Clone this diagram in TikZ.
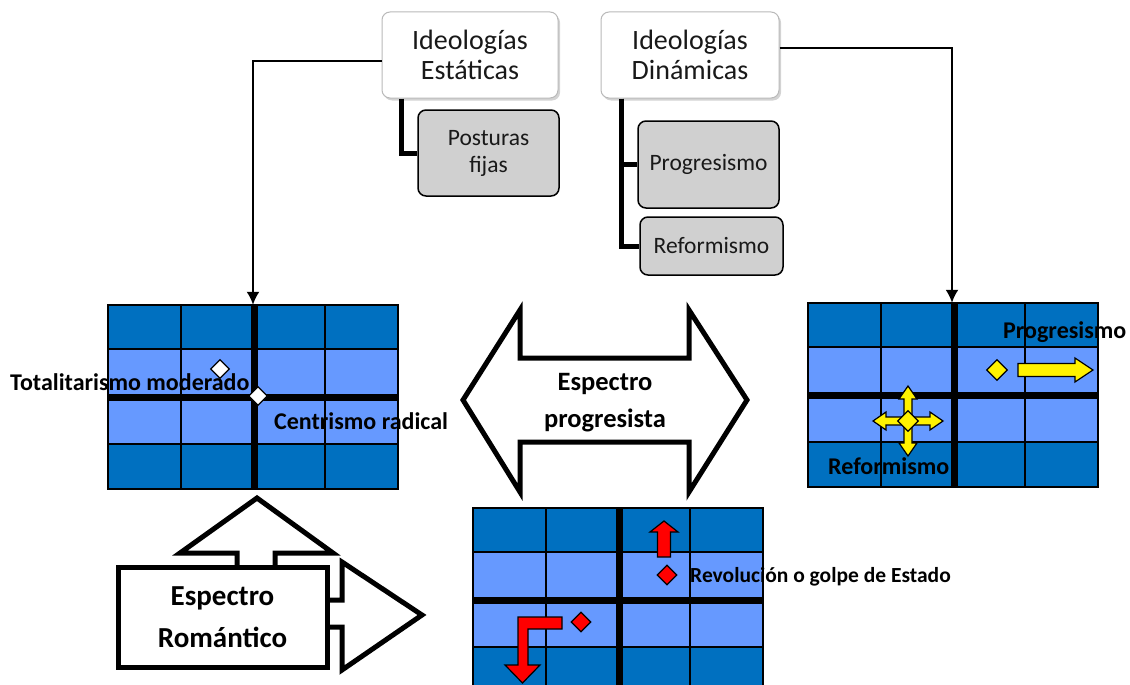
\documentclass[tikz,border=0pt]{standalone}
\usepackage{fontspec}
\setmainfont{Carlito}
\usetikzlibrary{arrows.meta}
\usetikzlibrary{shapes.geometric}
\usetikzlibrary{shadows}
\definecolor{azuloscuro}{HTML}{0070C0}
\definecolor{azulclaro}{HTML}{6699FF}
\definecolor{grisbox}{HTML}{D0D0D0}
\tikzset{>=latex}
\tikzset{ideologia/.style = {shape=rectangle,rounded corners=8pt,draw=gray!55,line width=1pt,fill=white,drop shadow={shadow xshift=2pt,shadow yshift=-2.5pt,opacity=0.35},minimum width=176pt,minimum height=86pt,align=center,text=black!90,font=\fontsize{28}{30}\selectfont}}
\tikzset{postura/.style = {shape=rectangle,rounded corners=8pt,draw,line width=1.5pt,fill=grisbox,minimum width=141pt,align=center,text=black!90,font=\fontsize{23.5}{27}\selectfont}}
\tikzset{rama/.style = {line width=5pt}}
\tikzset{edge/.style = {-{Latex[length=13pt,width=13pt]},line width=2pt}}
\tikzset{rejilla/.style = {shape=rectangle,minimum width=290pt,minimum height=184pt,inner sep=0pt}}
\tikzset{rombo/.style = {shape=diamond,draw,line width=1.2pt,minimum size=19pt,inner sep=0pt}}
\tikzset{etiqueta/.style = {anchor=west,inner sep=0pt,font=\bfseries\fontsize{24}{28}\selectfont}}
\tikzset{bloque/.style = {draw,line width=5pt,fill=white}}
\tikzset{titulo/.style = {align=center,font=\bfseries\fontsize{26}{40}\selectfont}}
\tikzset{amarilla/.style = {draw,line width=1.2pt,fill=yellow}}
\tikzset{roja/.style = {draw,line width=1.2pt,fill=red}}

\begin{document}
\begin{tikzpicture}[x=1pt,y=-1pt]
            \clip (0,0) rectangle (1130,685);

            % Grids
            \foreach \gx/\gy/\gn in {108/305/gridL,808/303/gridR,473/508/gridB}{
                \fill[azuloscuro] (\gx,\gy) rectangle ++(290,184);
                \fill[azulclaro] (\gx,\gy+44) rectangle ++(290,95);
                \draw[line width=1.5pt] (\gx+73,\gy) -- ++(0,184) (\gx+217,\gy) -- ++(0,184);
                \draw[line width=1.5pt] (\gx,\gy+44) -- ++(290,0) (\gx,\gy+139) -- ++(290,0);
                \draw[line width=7pt] (\gx+146,\gy) -- ++(0,184) (\gx,\gy+92) -- ++(290,0);
                \draw[line width=2.5pt] (\gx,\gy) rectangle ++(290,184);
                \node[rejilla] (\gn) at (\gx+145,\gy+92) {};
            }

            % Ideologies
            \node[ideologia] (est) at (470,55) {Ideologías\\Estáticas};
            \node[ideologia, minimum width=178pt] (din) at (690,55) {Ideologías\\Dinámicas};
            \node[postura, minimum height=86pt] (fij) at (488.5,153) {Posturas\\fijas};
            \node[postura, minimum height=87pt] (pro) at (708.5,164.5) {Progresismo};
            \node[postura, minimum width=143pt, minimum height=58pt] (ref) at (711.5,246) {Reformismo};

            % Branches
            \draw[rama] ([xshift=20pt]est.south west) |- (fij.west);
            \draw[rama] ([xshift=21pt]din.south west) |- (pro.west);
            \draw[rama] ([xshift=21pt]din.south west) |- (ref.west);

            % Edges
            \draw[edge] ([yshift=-6pt]est.west) -| (gridL.north);
            \draw[edge] ([yshift=7pt]din.east) -| ([xshift=-1pt]gridR.north);

            % left grid
            \node[rombo, fill=white] (tot) at (220,369) {};
            \node[rombo, fill=white] (cen) at (258,396) {};
            \node[etiqueta] (ltot) at (10,382) {Totalitarismo moderado};
            \node[etiqueta] (lcen) at (274,421) {Centrismo radical};

            % right grid
            \node[rombo, fill=yellow, minimum size=21pt] (dpro) at (997,370) {};
            \draw[amarilla] (1018,363.5) -- (1075,363.5) -- (1075,358) -- (1093,370) -- (1075,382) -- (1075,376.5) -- (1018,376.5) -- cycle;
            \foreach \ang in {0,90,180,270}{
                \draw[amarilla, rotate around={\ang:(908,421)}] (908,417) -- (930,417) -- (930,412) -- (943,421) -- (930,430) -- (930,425) -- (908,425) -- cycle;
            }
            \node[rombo, fill=yellow, minimum size=21pt] (dref) at (908,421) {};
            \node[etiqueta] (lpro) at (1003,332) {Progresismo};
            \node[etiqueta] (lref) at (828,466) {Reformismo};

            % bottom grid
            \draw[roja] (657.5,557) -- (657.5,532) -- (650,532) -- (664,521) -- (678,532) -- (670.5,532) -- (670.5,557) -- cycle;
            \node[rombo, fill=red, minimum size=20pt] (drev) at (667,575) {};
            \node[rombo, fill=red, minimum size=20pt] (dgol) at (581,622) {};
            \draw[roja] (562,617) -- (562,629) -- (528,629) -- (528,665) -- (540,665) -- (522.5,683) -- (505,665) -- (518,665) -- (518,617) -- cycle;
            \node[etiqueta, font=\bfseries\fontsize{21.5}{25}\selectfont] (lrev) at (690,577) {Revolución o golpe de Estado};

            % Spectra
            \draw[bloque] (463,400) -- (520,310) -- (520,358) -- (689,358) -- (689,310) -- (747,400) -- (689,492) -- (689,442) -- (520,442) -- (520,492) -- cycle;
            \node[titulo, font=\bfseries\fontsize{26.5}{37}\selectfont] (prog) at (605,403) {Espectro\\progresista};
            \draw[bloque] (237,567) -- (237,553) -- (180,553) -- (257,498) -- (333,553) -- (275,553) -- (275,567);
            \draw[bloque] (327,600) -- (342,600) -- (342,562) -- (422,615) -- (342,670) -- (342,627) -- (327,627);
            \node[bloque, titulo, minimum width=209pt, minimum height=100pt, font=\bfseries\fontsize{29}{42}\selectfont] (rom) at (222.5,617) {Espectro\\Romántico};

        \end{tikzpicture}
\end{document}
